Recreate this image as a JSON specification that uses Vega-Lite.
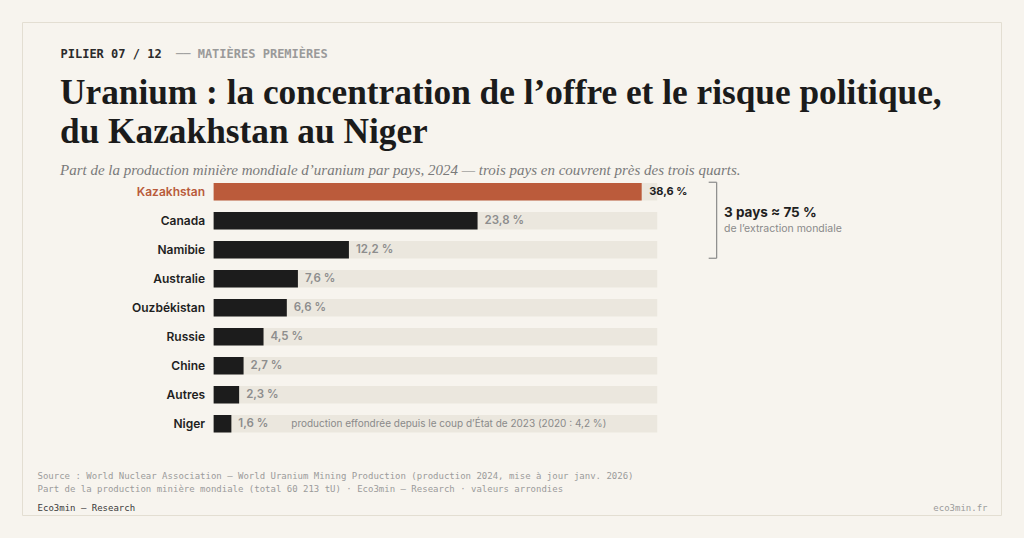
{
  "$schema": "https://vega.github.io/schema/vega-lite/v6.json",
  "width": 979,
  "height": 493,
  "autosize": {"type": "none"},
  "padding": {"left": 22, "top": 22, "right": 23, "bottom": 23},
  "background": "#f7f4ee",
  "config": {
    "view": {"stroke": "#e3ded2", "strokeWidth": 1},
    "font": "Inter"
  },
  "title": {
    "text": ["Uranium : la concentration de l’offre et le risque politique,", "du Kazakhstan au Niger"],
    "subtitle": "Part de la production minière mondiale d’uranium par pays, 2024 — trois pays en couvrent près des trois quarts.",
    "orient": "top",
    "anchor": "start",
    "frame": "group",
    "dx": 38,
    "offset": -156,
    "font": "Liberation Serif",
    "fontSize": 35.3,
    "fontWeight": "bold",
    "color": "#1b1b1b",
    "lineHeight": 39,
    "subtitleFont": "Liberation Serif",
    "subtitleFontSize": 15,
    "subtitleFontStyle": "italic",
    "subtitleColor": "#7a7a7a",
    "subtitlePadding": 13
  },
  "datasets": {
    "parts": [
      {"pays": "Kazakhstan", "part": 38.6, "etiquette": "38,6 %"},
      {"pays": "Canada", "part": 23.8, "etiquette": "23,8 %"},
      {"pays": "Namibie", "part": 12.2, "etiquette": "12,2 %"},
      {"pays": "Australie", "part": 7.6, "etiquette": "7,6 %"},
      {"pays": "Ouzbékistan", "part": 6.6, "etiquette": "6,6 %"},
      {"pays": "Russie", "part": 4.5, "etiquette": "4,5 %"},
      {"pays": "Chine", "part": 2.7, "etiquette": "2,7 %"},
      {"pays": "Autres", "part": 2.3, "etiquette": "2,3 %"},
      {"pays": "Niger", "part": 1.6, "etiquette": "1,6 %", "note": "production effondrée depuis le coup d’État de 2023 (2020 : 4,2 %)"}
    ],
    "accolade": [
      {"de": "Kazakhstan", "a": "Namibie", "titre": "3 pays ≈ 75 %", "detail": "de l’extraction mondiale"}
    ]
  },
  "layer": [
    {
      "data": {"name": "parts"},
      "mark": {"type": "bar", "color": "#ebe7de"},
      "encoding": {
        "x": {
          "datum": 0,
          "type": "quantitative",
          "scale": {"domain": [-17.28, 71.0], "nice": false, "zero": false},
          "axis": {
            "orient": "top", "domain": false, "ticks": false, "labels": false, "grid": false,
            "title": "──  MATIÈRES PREMIÈRES",
            "titleX": 153.5, "titleY": 31, "titleAlign": "left", "titleBaseline": "middle", "titleAngle": 0,
            "titleFont": "DejaVu Sans Mono", "titleFontSize": 12, "titleFontWeight": "bold", "titleColor": "#9a9a9a"
          }
        },
        "x2": {"datum": 40},
        "y": {
          "field": "pays",
          "type": "nominal",
          "scale": {
            "domain": ["Kazakhstan", "Canada", "Namibie", "Australie", "Ouzbékistan", "Russie", "Chine", "Autres", "Niger"],
            "range": [161, 410.5], "paddingInner": 0.3966, "paddingOuter": 0
          },
          "axis": {
            "orient": "right", "domain": false, "ticks": false, "labels": false, "grid": false,
            "title": "eco3min.fr",
            "titleX": -14, "titleY": 485, "titleAlign": "right", "titleBaseline": "middle", "titleAngle": 0,
            "titleFont": "DejaVu Sans Mono", "titleFontSize": 9, "titleFontWeight": "normal", "titleColor": "#9b9b9b"
          }
        }
      }
    },
    {
      "layer": [
        {
          "data": {"name": "parts"},
          "mark": {"type": "bar"},
          "encoding": {
            "x": {
              "field": "part",
              "type": "quantitative",
              "scale": {"domain": [-17.28, 71.0], "nice": false, "zero": false},
              "axis": {
                "orient": "bottom", "offset": -8, "domain": false, "ticks": false, "tickSize": 0, "grid": false,
                "values": [-15.92],
                "labelExpr": "'Eco3min — Research'",
                "labelAlign": "left", "labelBaseline": "middle", "labelPadding": 0, "labelFlush": false,
                "labelBound": false, "labelOverlap": false,
                "labelFont": "DejaVu Sans Mono", "labelFontSize": 9, "labelColor": "#3a3a3a",
                "title": [
                  "Source : World Nuclear Association — World Uranium Mining Production (production 2024, mise à jour janv. 2026)",
                  "Part de la production minière mondiale (total 60 213 tU) · Eco3min — Research · valeurs arrondies"
                ],
                "titleX": 15, "titleY": -29, "titleAlign": "left", "titleBaseline": "alphabetic",
                "titleFont": "DejaVu Sans Mono", "titleFontSize": 9, "titleFontWeight": "normal",
                "titleColor": "#9b9b9b", "titleLineHeight": 13
              }
            },
            "x2": {"datum": 0},
            "y": {
              "field": "pays",
              "type": "nominal",
              "scale": {
                "domain": ["Kazakhstan", "Canada", "Namibie", "Australie", "Ouzbékistan", "Russie", "Chine", "Autres", "Niger"],
                "range": [161, 410.5], "paddingInner": 0.3966, "paddingOuter": 0
              },
              "axis": {
                "orient": "left", "offset": -191.6, "domain": false, "ticks": false, "tickSize": 0, "grid": false,
                "labelPadding": 9, "labelFont": "Inter", "labelFontSize": 12, "labelFontWeight": 600, "labelLimit": 300,
                "labelColor": {"condition": {"test": "datum.value === 'Kazakhstan'", "value": "#b95b3b"}, "value": "#1f1f1f"},
                "title": "PILIER 07 / 12",
                "titleX": -153.6, "titleY": 31, "titleAlign": "left", "titleBaseline": "middle", "titleAngle": 0,
                "titleFont": "DejaVu Sans Mono", "titleFontSize": 12, "titleFontWeight": "bold", "titleColor": "#2b2b2b"
              }
            },
            "color": {
              "condition": {"test": "datum.pays === 'Kazakhstan'", "value": "#bb5b3b"},
              "value": "#1c1c1c"
            }
          }
        },
        {
          "data": {"name": "parts"},
          "transform": [{"filter": "datum.pays !== 'Kazakhstan'"}],
          "mark": {"type": "text", "align": "left", "baseline": "middle", "dx": 7, "font": "Inter", "fontSize": 11.5, "fontWeight": 600, "color": "#8d8d8d"},
          "encoding": {
            "x": {"field": "part", "type": "quantitative"},
            "y": {"field": "pays", "type": "nominal"},
            "text": {"field": "etiquette"}
          }
        },
        {
          "data": {"name": "parts"},
          "transform": [{"filter": "datum.pays === 'Kazakhstan'"}],
          "mark": {"type": "text", "align": "left", "baseline": "middle", "dx": 7.5, "font": "Inter", "fontSize": 11, "fontWeight": 700, "color": "#222222"},
          "encoding": {
            "x": {"field": "part", "type": "quantitative"},
            "y": {"field": "pays", "type": "nominal"},
            "text": {"field": "etiquette"}
          }
        },
        {
          "data": {"name": "parts"},
          "transform": [{"filter": "isValid(datum.note)"}],
          "mark": {"type": "text", "align": "left", "baseline": "middle", "font": "Inter", "fontSize": 10, "color": "#8a8a8a"},
          "encoding": {
            "x": {"datum": 7},
            "y": {"field": "pays", "type": "nominal"},
            "text": {"field": "note"}
          }
        },
        {
          "data": {"name": "accolade"},
          "mark": {"type": "rule", "color": "#8a8a8a", "strokeWidth": 1.2, "yOffset": -9.5, "y2Offset": 8.5},
          "encoding": {
            "x": {"datum": 45.36},
            "y": {"field": "de", "type": "nominal"},
            "y2": {"field": "a"}
          }
        },
        {
          "data": {"name": "accolade"},
          "mark": {"type": "rule", "color": "#8a8a8a", "strokeWidth": 1.2, "yOffset": -9.5},
          "encoding": {
            "x": {"datum": 44.64},
            "x2": {"datum": 45.36},
            "y": {"field": "de", "type": "nominal"}
          }
        },
        {
          "data": {"name": "accolade"},
          "mark": {"type": "rule", "color": "#8a8a8a", "strokeWidth": 1.2, "yOffset": 8.5},
          "encoding": {
            "x": {"datum": 44.64},
            "x2": {"datum": 45.36},
            "y": {"field": "a", "type": "nominal"}
          }
        },
        {
          "data": {"name": "accolade"},
          "mark": {"type": "text", "align": "left", "baseline": "middle", "dy": -7.5, "font": "Inter", "fontSize": 13.5, "fontWeight": 700, "color": "#1f1f1f"},
          "encoding": {
            "x": {"datum": 46.02},
            "y": {"datum": "Canada", "type": "nominal"},
            "text": {"field": "titre"}
          }
        },
        {
          "data": {"name": "accolade"},
          "mark": {"type": "text", "align": "left", "baseline": "middle", "dy": 8, "font": "Inter", "fontSize": 10.5, "color": "#8a8a8a"},
          "encoding": {
            "x": {"datum": 46.02},
            "y": {"datum": "Canada", "type": "nominal"},
            "text": {"field": "detail"}
          }
        }
      ]
    }
  ],
  "resolve": {"scale": {"x": "independent", "y": "independent"}}
}
